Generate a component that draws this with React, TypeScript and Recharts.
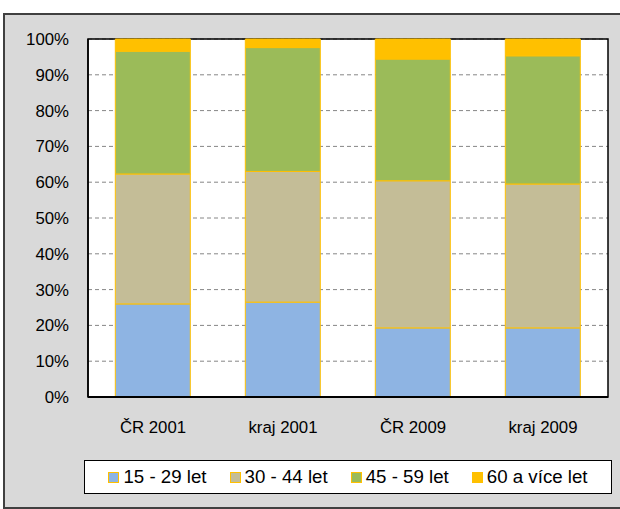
import React from "react";
import {
  BarChart,
  Bar,
  XAxis,
  YAxis,
  CartesianGrid,
  Legend,
  ReferenceArea,
} from "recharts";

const categories = ["ČR 2001", "kraj 2001", "ČR 2009", "kraj 2009"];
const age15to29 = [26.0, 26.5, 19.3, 19.3];
const age30to44 = [36.3, 36.5, 41.1, 40.2];
const age45to59 = [34.3, 34.6, 34.0, 35.8];
const age60plus = [3.4, 2.4, 5.6, 4.7];
const yTicks = [0, 10, 20, 30, 40, 50, 60, 70, 80, 90, 100];

const series = [
  { key: "a", name: "15 - 29 let", color: "#8eb4e3" },
  { key: "b", name: "30 - 44 let", color: "#c4bd97" },
  { key: "c", name: "45 - 59 let", color: "#9bbb59" },
  { key: "d", name: "60 a více let", color: "#ffc000" },
];

const data = categories.map((name, i) => ({
  name,
  a: age15to29[i],
  b: age30to44[i],
  c: age45to59[i],
  d: age60plus[i],
}));

const FONT = '"Liberation Sans", Arial, sans-serif';

const renderLegend = (props: any) => {
  const items = props.payload || [];
  return (
    <div
      style={{
        display: "flex",
        justifyContent: "center",
        alignItems: "center",
        height: "100%",
        fontFamily: FONT,
        fontSize: 18.7,
        color: "#000",
      }}
    >
      {items.map((entry: any, idx: number) => (
        <div
          key={idx}
          style={{
            display: "flex",
            alignItems: "center",
            marginLeft: idx === 0 ? 0 : 23,
          }}
        >
          <span
            style={{
              display: "inline-block",
              width: 9,
              height: 9,
              background: entry.color,
              border: "1.5px solid #ffc000",
              marginRight: 4,
            }}
          />
          <span>{entry.value}</span>
        </div>
      ))}
    </div>
  );
};

export default function App() {
  return (
    <div
      style={{
        position: "absolute",
        left: 0,
        top: 0,
        width: 620,
        height: 509,
        background: "#fff",
        fontFamily: FONT,
      }}
    >
      <div
        style={{
          position: "absolute",
          left: 3,
          top: 13,
          width: 620,
          height: 492,
          background: "#d9d9d9",
          border: "2px solid #404040",
        }}
      />
      <div style={{ position: "absolute", left: 0, top: 0 }}>
        <BarChart
          width={620}
          height={509}
          data={data}
          margin={{ top: 39, right: 12, left: 0, bottom: 82 }}
          barCategoryGap="21%"
        >
          <CartesianGrid
            vertical={false}
            stroke="#868686"
            strokeDasharray="4 3"
            fill="#fff"
          />
          <XAxis
            dataKey="name"
            tickLine={false}
            tickSize={0}
            tickMargin={24}
            height={30}
            axisLine={{ stroke: "#000", strokeWidth: 2 }}
            tick={{ fontSize: 16.8, fill: "#000", fontFamily: FONT }}
          />
          <YAxis
            width={88}
            domain={[0, 100]}
            ticks={yTicks}
            tickFormatter={(v) => `${v}%`}
            tickLine={false}
            tickSize={0}
            tickMargin={19}
            axisLine={{ stroke: "#000", strokeWidth: 1.5 }}
            tick={{ fontSize: 16.8, fill: "#000", fontFamily: FONT }}
          />
          {series.map((s) => (
            <Bar
              key={s.key}
              dataKey={s.key}
              name={s.name}
              stackId="1"
              fill={s.color}
              stroke="#ffc000"
              strokeWidth={1}
              isAnimationActive={false}
            />
          ))}
          <ReferenceArea
            y1={0}
            y2={100}
            fill="none"
            stroke="#000"
            strokeWidth={1.5}
            ifOverflow="visible"
          />
          <Legend
            layout="horizontal"
            verticalAlign="middle"
            align="center"
            content={renderLegend}
            wrapperStyle={{
              position: "absolute",
              left: 84,
              top: 460,
              width: 528,
              height: 34,
              background: "#fff",
              border: "1.5px solid #000",
              boxSizing: "border-box",
            }}
          />
        </BarChart>
      </div>
    </div>
  );
}
